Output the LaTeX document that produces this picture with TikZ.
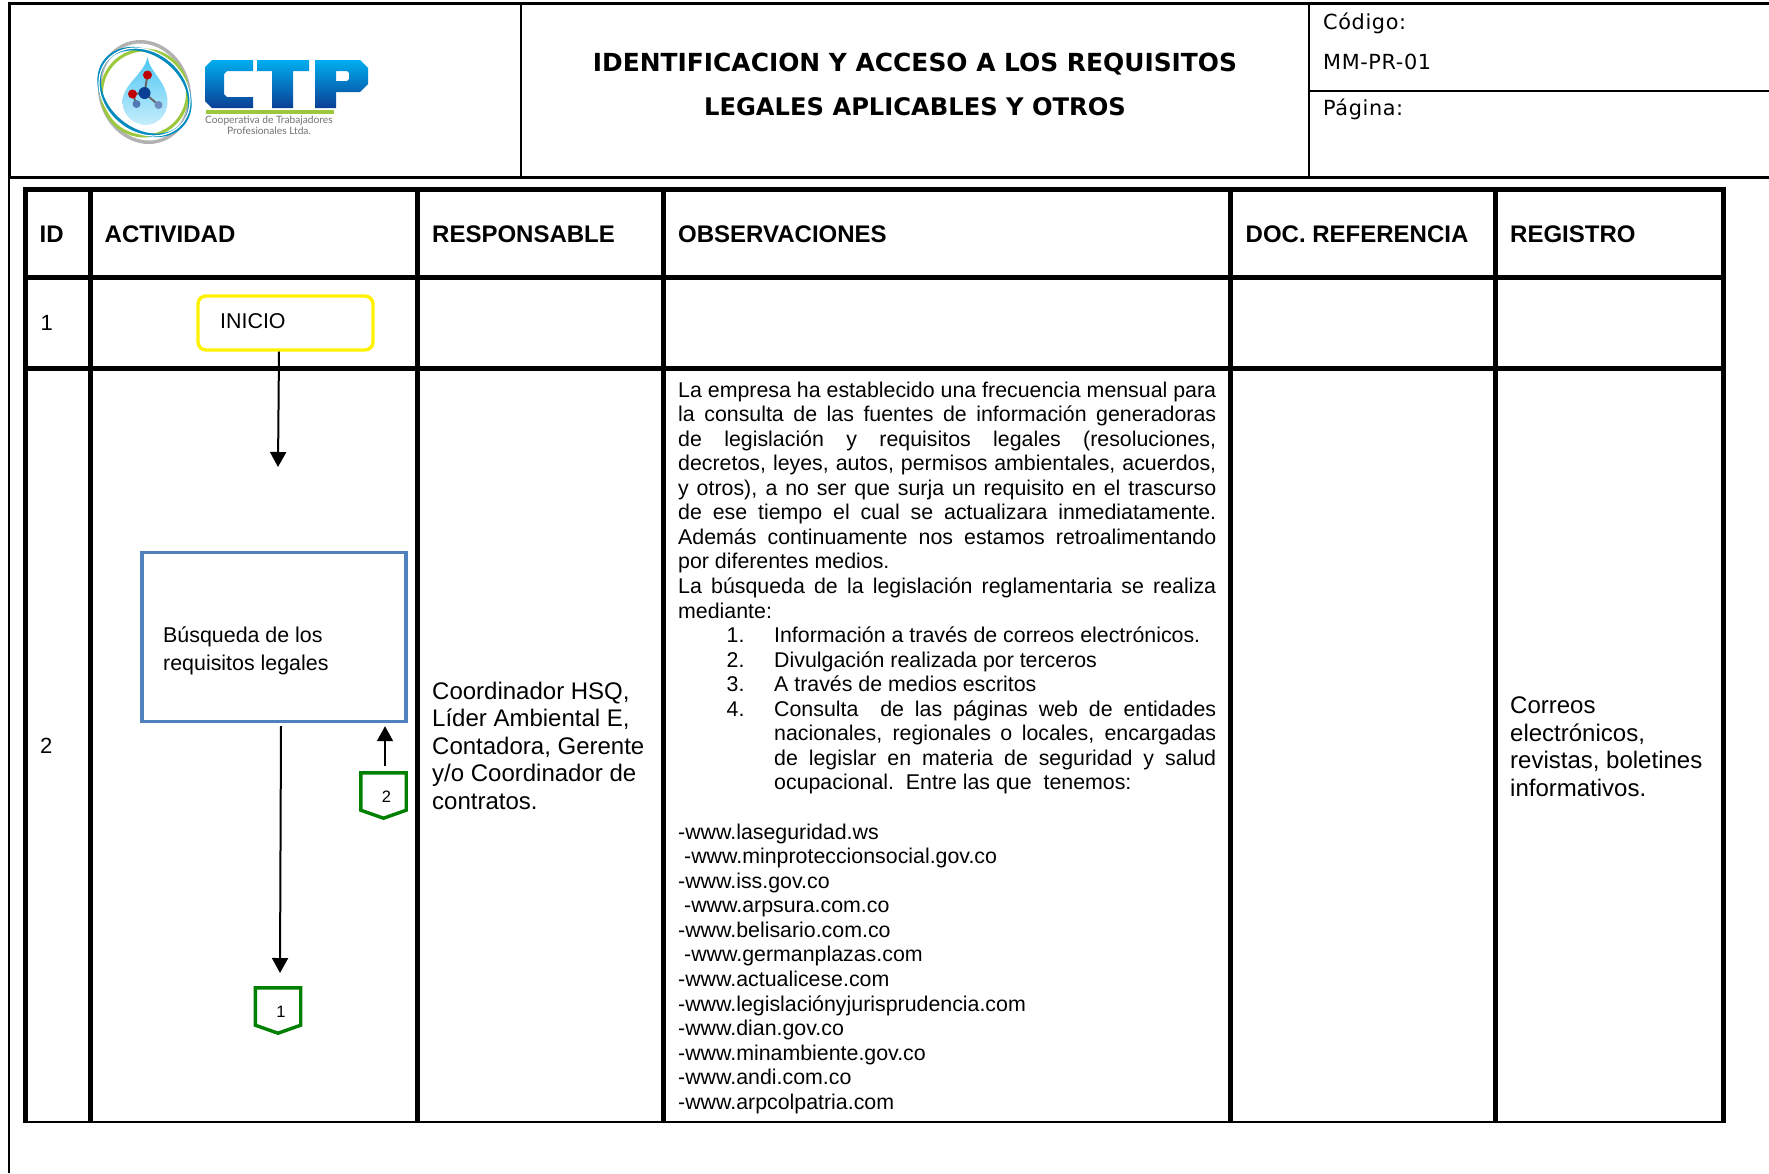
\documentclass[tikz,border=0pt]{standalone}
\usepackage{fontspec}
\setmainfont{Liberation Sans}
\newfontfamily\vf[LetterSpace=3]{DejaVu Sans}
\newfontfamily\vb{DejaVu Sans}
\newfontfamily\lf{Lato}
\usetikzlibrary{arrows.meta,calc,shapes.geometric}
\definecolor{boxblue}{HTML}{4F81BD}
\definecolor{ctpgreen}{HTML}{008000}
\definecolor{lime}{HTML}{9BC83C}
\definecolor{ctptop}{HTML}{00AEEF}
\definecolor{ctpbot}{HTML}{0A3F94}
\newlength\obsw \setlength\obsw{538pt}
\newcommand\jl[1]{\hbox to \obsw{#1}}
\newcommand\pl[1]{\hbox{#1}}
\newcommand\nj[2]{\hbox to \obsw{\hskip48.5pt\hbox to 47.5pt{#1\hfil}#2}}
\newcommand\nn[2]{\hbox to \obsw{\hskip48.5pt\hbox to 47.5pt{#1\hfil}#2\hfil}}
\tikzset{
  x=1pt,y=-1pt,
  head line/.style={line width=3pt},
  colhead/.style={anchor=base west,inner sep=0pt,font=\fontsize{24}{27.6}\selectfont\bfseries},
  plaintext/.style={anchor=base west,inner sep=0pt,font=\fontsize{24}{27.6}\selectfont},
  rownum/.style={anchor=base west,inner sep=0pt,font=\fontsize{22}{25}\selectfont},
  flowtext/.style={anchor=base west,inner sep=0pt,font=\fontsize{21.4}{28}\selectfont},
  titletext/.style={anchor=base,inner sep=0pt,font=\fontsize{24.9}{28}\selectfont\vb\bfseries},
  titletextb/.style={anchor=base,inner sep=0pt,font=\fontsize{24.2}{28}\selectfont\vb\bfseries},
  codetext/.style={anchor=base west,inner sep=0pt,font=\fontsize{20.8}{24}\selectfont\vf},
  arrowline/.style={line width=2pt,-{Triangle[width=16pt,length=15pt]}},
  offpage/.style={draw=none,inner sep=0pt,minimum width=45pt,minimum height=45pt,font=\fontsize{16}{18}\selectfont},
  offline/.style={draw=ctpgreen,line width=3.4pt,line join=miter},
  ctpshade/.style={top color=ctptop,bottom color=ctpbot,draw=none},
  logotext/.style={inner sep=0pt,text=black!55,font=\fontsize{10.2}{12}\selectfont\lf},
}
\begin{document}
\begin{tikzpicture}
\useasboundingbox (0,0) rectangle (1769,1173);
\fill[white] (0,0) rectangle (1769,1173);
% page frame
\draw[line width=2pt] (9,177) -- (9,1173);
\draw[head line] (9,3.5) -- (1769,3.5);
\draw[head line] (9,177.5) -- (1769,177.5);
\draw[head line] (9,2) -- (9,179);
\draw[line width=1.6pt] (521,3.5) -- (521,177);
\draw[line width=1.6pt] (1309,3.5) -- (1309,177);
\draw[line width=1.6pt] (1309,91) -- (1769,91);
% logo
\begin{scope}[shift={(-0.5,1)}]
  \draw[black!30,line width=3.5pt,rotate around={20:(145,91)}] (145,91) ellipse (44 and 51);
  \draw[lime,line width=3pt] (145,92) circle (43);
  \draw[ctptop!80!black,line width=3.5pt,rotate around={-40:(145,91)}] (145,91) ellipse (50 and 38);
  \draw[white,line width=1.2pt,rotate around={-40:(145,91)}] (145,91) ellipse (49 and 40);
  \path[top color=ctptop!70,bottom color=ctptop!22!white,draw=none]
    (148,56) .. controls (150,71) and (168,81) .. (168,101)
    .. controls (168,115) and (157,124) .. (146,124)
    .. controls (135,124) and (123,115) .. (123,101)
    .. controls (123,83) and (145,73) .. (148,56) -- cycle;
  \draw[black!60,line width=2pt] (148,74) -- (145,92) -- (133,93) (145,92) -- (159,104) (133,93) -- (137,103);
  \fill[ctpbot] (145,92) circle (6);
  \fill[red!75!black] (148,74) circle (4.5);
  \fill[red!75!black] (133,93) circle (4.5);
  \fill[ctpbot!70] (137,103) circle (4);
  \fill[ctpbot!60] (159,104) circle (4);
\end{scope}
  % C
  \path[ctpshade] (212,60) -- (253,60) -- (253,71) -- (227,71) -- (224,74) -- (224,94) -- (227,97) -- (253,97) -- (253,108) -- (212,108) -- (205,101) -- (205,67) -- cycle;
  % T
  \path[ctpshade] (257,60) -- (309,60) -- (309,71) -- (293,71) -- (293,108) -- (272,108) -- (272,71) -- (257,71) -- cycle;
  % P
  \path[ctpshade,even odd rule] (315,60) -- (360,60) -- (368,68) -- (368,84) -- (360,92) -- (336,92) -- (336,108) -- (315,108) -- cycle
     (336,71) -- (336,81) -- (347,81) -- (349,79) -- (349,73) -- (347,71) -- cycle;
  \fill[lime] (206,110) rectangle (334,113.5);
  \node[logotext] (logoa) at (269,120.5) {Cooperativa de Trabajadores};
  \node[logotext] (logob) at (269,131) {Profesionales Ltda.};
% header texts
\node[titletext] (t1) at (915,71) {IDENTIFICACION Y ACCESO A LOS REQUISITOS};
\node[titletextb] (t2) at (915,115) {LEGALES APLICABLES Y OTROS};
\node[codetext] (c1) at (1323,29) {Código:};
\node[codetext] (c2) at (1323,69) {MM-PR-01};
\node[codetext] (c3) at (1323,115) {Página:};
% table
\foreach \x in {25.5,90.5,417.5,663,1230.5,1495,1723}
  \draw[line width=5pt] (\x,186.5) -- (\x,1123);
\draw[line width=5pt] (23,189) -- (1725.5,189);
\draw[line width=5pt] (25.5,277) -- (1723,277);
\draw[line width=5pt] (25.5,368) -- (1723,368);
\draw[line width=2pt] (23,1122) -- (1725.5,1122);
% column heads
\node[colhead] (hid) at (39.5,242) {ID};
\node[colhead] (hac) at (104.5,242) {ACTIVIDAD};
\node[colhead] (hre) at (432,242) {RESPONSABLE};
\node[colhead] (hob) at (678,242) {OBSERVACIONES};
\node[colhead] (hdo) at (1245.5,242) {DOC. REFERENCIA};
\node[colhead] (hrg) at (1510,242) {REGISTRO};
\node[rownum] (r1) at (40.5,330) {1};
\node[rownum] (r2) at (40,753) {2};
% flow
\node[draw=yellow,line width=3.4pt,rounded corners=8pt,minimum width=175pt,minimum height=54pt] (inicio) at (285.5,323) {};
\node[flowtext] (iniciot) at (220,328) {INICIO};
\node[draw=boxblue,line width=3.4pt,minimum width=264pt,minimum height=169pt] (busq) at (274,637) {};
\node[flowtext] (busqa) at (163,642) {Búsqueda de los};
\node[flowtext] (busqb) at (163,670) {requisitos legales};
\coordinate (a1e) at (278,467);
\coordinate (a2e) at (280,973);
\draw[arrowline] ([xshift=-6.5pt]inicio.south) -- (a1e);
\draw[arrowline] ([xshift=7pt,yshift=-3pt]busq.south) -- (a2e);
\node[offpage] (off2) at (383.5,795.5) {};
\node[offpage] (off1) at (278,1010.5) {};
\draw[offline] (off2.north west) -- (off2.north east) -- ([yshift=8pt]off2.south east) -- (off2.south) -- ([yshift=8pt]off2.south west) -- cycle;
\draw[offline] (off1.north west) -- (off1.north east) -- ([yshift=8pt]off1.south east) -- (off1.south) -- ([yshift=8pt]off1.south west) -- cycle;
\node[inner sep=0pt,font=\fontsize{16.5}{18}\selectfont] (n2) at (386.5,797) {2};
\node[inner sep=0pt,font=\fontsize{16.5}{18}\selectfont] (n1) at (281,1012) {1};
\draw[arrowline] ([xshift=1.5pt,yshift=7pt]off2.north) -- ([xshift=1.5pt,yshift=-3pt]off2.north |- busq.south);
% responsable
\node[plaintext] (resp) at (432,699) {\vtop{\hbox{Coordinador HSQ,}\hbox{Líder Ambiental E,}\hbox{Contadora, Gerente}\hbox{y/o Coordinador de}\hbox{contratos.}}};
\node[plaintext] (regi) at (1510,713.5) {\vtop{\hbox{Correos}\hbox{electrónicos,}\hbox{revistas, boletines}\hbox{informativos.}}};
% observaciones
\node[anchor=base west,inner sep=0pt,font=\fontsize{21.35}{24.56}\selectfont] (obs) at (678,397) {\vtop{%
\jl{La empresa ha establecido una frecuencia mensual para}
\jl{la consulta de las fuentes de información generadoras}
\jl{de legislación y requisitos legales (resoluciones,}
\jl{decretos, leyes, autos, permisos ambientales, acuerdos,}
\jl{y otros), a no ser que surja un requisito en el trascurso}
\jl{de ese tiempo el cual se actualizara inmediatamente.}
\jl{Además continuamente nos estamos retroalimentando}
\pl{por diferentes medios.}
\jl{La búsqueda de la legislación reglamentaria se realiza}
\pl{mediante:}
\nn{1.}{Información a través de correos electrónicos.}
\nn{2.}{Divulgación realizada por terceros}
\nn{3.}{A través de medios escritos}
\nj{4.}{Consulta\ \ de las páginas web de entidades}
\nj{}{nacionales, regionales o locales, encargadas}
\nj{}{de legislar en materia de seguridad y salud}
\nn{}{ocupacional.\ \ Entre las que\ \ tenemos:}
\hbox{\strut}
\pl{-www.laseguridad.ws}
\pl{\hskip6pt-www.minproteccionsocial.gov.co}
\pl{-www.iss.gov.co}
\pl{\hskip6pt-www.arpsura.com.co}
\pl{-www.belisario.com.co}
\pl{\hskip6pt-www.germanplazas.com}
\pl{-www.actualicese.com}
\pl{-www.legislaciónyjurisprudencia.com}
\pl{-www.dian.gov.co}
\pl{-www.minambiente.gov.co}
\pl{-www.andi.com.co}
\pl{-www.arpcolpatria.com}
}};
\end{tikzpicture}
\end{document}
